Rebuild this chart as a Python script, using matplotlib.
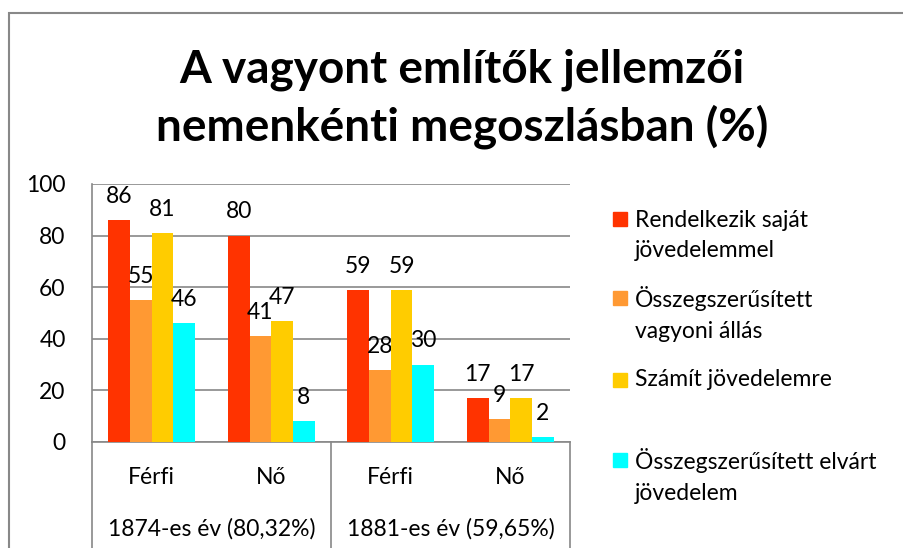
import matplotlib
matplotlib.use("Agg")
import matplotlib.pyplot as plt
from matplotlib.patches import Rectangle
import numpy as np

# data
sexes = ["Férfi", "Nő", "Férfi", "Nő"]
years = ["1874-es év (80,32%)", "1881-es év (59,65%)"]
series_names = ["Rendelkezik saját\njövedelemmel",
                "Összegszerűsített\nvagyoni állás",
                "Számít jövedelemre",
                "Összegszerűsített elvárt\njövedelem"]
sajat = [86, 80, 59, 17]
vagyoni = [55, 41, 28, 9]
szamit = [81, 47, 59, 17]
elvart = [46, 8, 30, 2]
colors = ["#FF3300", "#FF9933", "#FFCC00", "#00FFFF"]

plt.rcParams['font.family'] = ['Lato', 'DejaVu Sans']
FS = 16.5

fig = plt.figure(figsize=(9.04, 5.48), dpi=100)
ax = fig.add_axes([92/904, 1 - 442/548, 478/904, 258/548])

x = np.arange(len(sexes))
w = 0.182
all_series = [sajat, vagyoni, szamit, elvart]
for i, vals in enumerate(all_series):
    pos = x + (i - 1.5) * w
    ax.bar(pos, vals, w, color=colors[i], zorder=3)
    for p, v in zip(pos, vals):
        ax.annotate(str(v), (p, v), xytext=(0, 17), textcoords="offset points",
                    ha="center", va="center", fontsize=FS)

ax.set_xlim(-0.5, 3.5)
ax.set_ylim(0, 100)
ax.set_yticks(range(0, 101, 20))
ax.yaxis.grid(True, color="#888888", linewidth=1.2, zorder=0)
ax.tick_params(axis="y", length=0, pad=19, labelsize=FS)
ax.set_xticks(x)
ax.set_xticklabels(sexes)
ax.tick_params(axis="x", length=0, pad=18, labelsize=FS)
for s in ["top", "right"]:
    ax.spines[s].set_visible(False)
for s in ["left", "bottom"]:
    ax.spines[s].set_color("#888888")
    ax.spines[s].set_linewidth(1.2)

# two-level category axis
tr = ax.get_xaxis_transform()
for sx in [-0.5, 1.5, 3.5]:
    ax.plot([sx, sx], [0, -0.42], transform=tr, clip_on=False,
            color="#888888", linewidth=1.2)
for j, yl in enumerate(years):
    ax.text(0.5 + 2 * j, -0.335, yl, transform=tr, ha="center", va="center",
            fontsize=FS)

# title
fig.text(462/904, 1 - 99/548, "A vagyont említők jellemzői\nnemenkénti megoszlásban (%)",
         ha="center", va="center", fontsize=33, fontweight="bold", linespacing=1.38)

# legend (drawn by hand to follow Excel's spacing)
leg_y = [235.5, 314, 380, 476]
for name, col, cy in zip(series_names, colors, leg_y):
    nlines = name.count("\n") + 1
    first = cy - (nlines - 1) * 16.5
    fig.patches.append(Rectangle((613/904, 1 - (first + 7)/548), 14/904, 14/548,
                                 transform=fig.transFigure, color=col))
    fig.text(635/904, 1 - cy/548, name, ha="left", va="center", fontsize=FS,
             linespacing=1.55)

# chart border
fig.patches.append(Rectangle((9/904, -0.05), 1.0, 1 - 13/548 + 0.05,
                             transform=fig.transFigure, fill=False,
                             edgecolor="#888888", linewidth=1.5))

fig.savefig("out.png", dpi=100)
